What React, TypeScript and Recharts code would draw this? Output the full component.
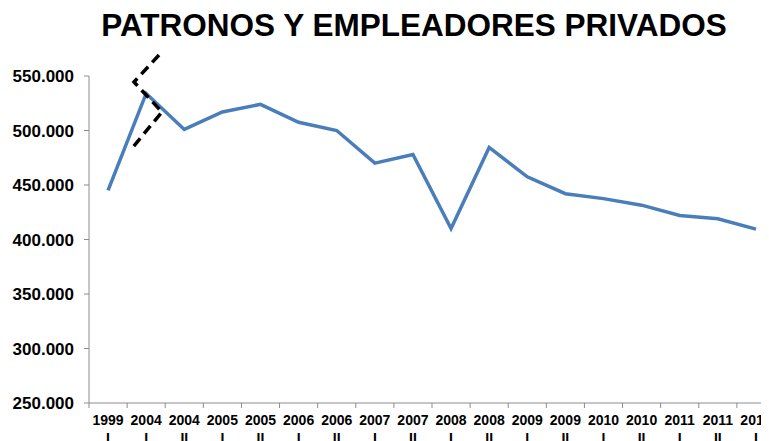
import React from "react";
import { LineChart, Line, XAxis, YAxis } from "recharts";

// semesters shown on the x axis (year + half)
const periods = [
  "1999 I", "2004 I", "2004 II", "2005 I", "2005 II", "2006 I", "2006 II",
  "2007 I", "2007 II", "2008 I", "2008 II", "2009 I", "2009 II",
  "2010 I", "2010 II", "2011 I", "2011 II", "2012 I",
];

// patronos y empleadores privados (personas)
const values = [
  445000, 534000, 501000, 517000, 524000, 507500, 500000,
  470000, 478000, 410000, 484500, 457500, 442000,
  437500, 431500, 422000, 419000, 409500,
];

const yTicks = [250000, 300000, 350000, 400000, 450000, 500000, 550000];

const data = periods.map((p, i) => ({ period: p, value: values[i] }));

const FONT = "'Liberation Sans', Arial, sans-serif";
const AXIS_GRAY = "#8c8c8c";
const BAND = 686 / periods.length;

// 550000 -> "550.000"
const fmt = (v: number) => `${Math.round(v / 1000)}.000`;

function XTick(props: any) {
  const { x, y, payload } = props;
  const [year, half] = String(payload.value).split(" ");
  const bx = x - BAND / 2;
  return (
    <g>
      <line x1={bx} x2={bx} y1={y} y2={y + 5} stroke={AXIS_GRAY} />
      <text x={x} y={y + 22} textAnchor="middle" fontFamily={FONT} fontWeight="bold" fontSize={14} fill="#000">
        {year}
      </text>
      <text x={x} y={y + 40} textAnchor="middle" fontFamily={FONT} fontWeight="bold" fontSize={14} fill="#000">
        {half}
      </text>
    </g>
  );
}

export default function App() {
  return (
    <div style={{ position: "relative", width: 761, height: 433, overflow: "hidden", background: "#fff" }}>
      <LineChart width={767} height={433} data={data} margin={{ top: 68, right: 0, bottom: 0, left: 0 }}>
        <XAxis
          dataKey="period"
          interval={0}
          height={38}
          tickLine={false}
          tickSize={0}
          tickMargin={0}
          padding={{ left: BAND / 2, right: BAND / 2 }}
          stroke={AXIS_GRAY}
          tick={<XTick />}
        />
        <YAxis
          domain={[250000, 550000]}
          ticks={yTicks}
          width={81}
          tickSize={5}
          tickMargin={10}
          stroke={AXIS_GRAY}
          tickFormatter={(v) => fmt(Number(v))}
          tick={{ fontFamily: FONT, fontSize: 17, fontWeight: "bold", fill: "#000" }}
        />
        <Line
          type="linear"
          dataKey="value"
          stroke="#4a7ebb"
          strokeWidth={3.5}
          dot={false}
          isAnimationActive={false}
        />
      </LineChart>
      <svg width={761} height={433} style={{ position: "absolute", left: 0, top: 0, pointerEvents: "none" }}>
        <text x={406} y={28} textAnchor="middle" fontFamily={FONT} fontWeight="bold" fontSize={31.5} fill="#000">
          PATRONOS Y EMPLEADORES PRIVADOS
        </text>
        {/* axis break marker */}
        <polyline
          points="151,47 126,74 154,104 125,139"
          fill="none"
          stroke="#000"
          strokeWidth={3.5}
          strokeDasharray="10 6"
        />
      </svg>
    </div>
  );
}
